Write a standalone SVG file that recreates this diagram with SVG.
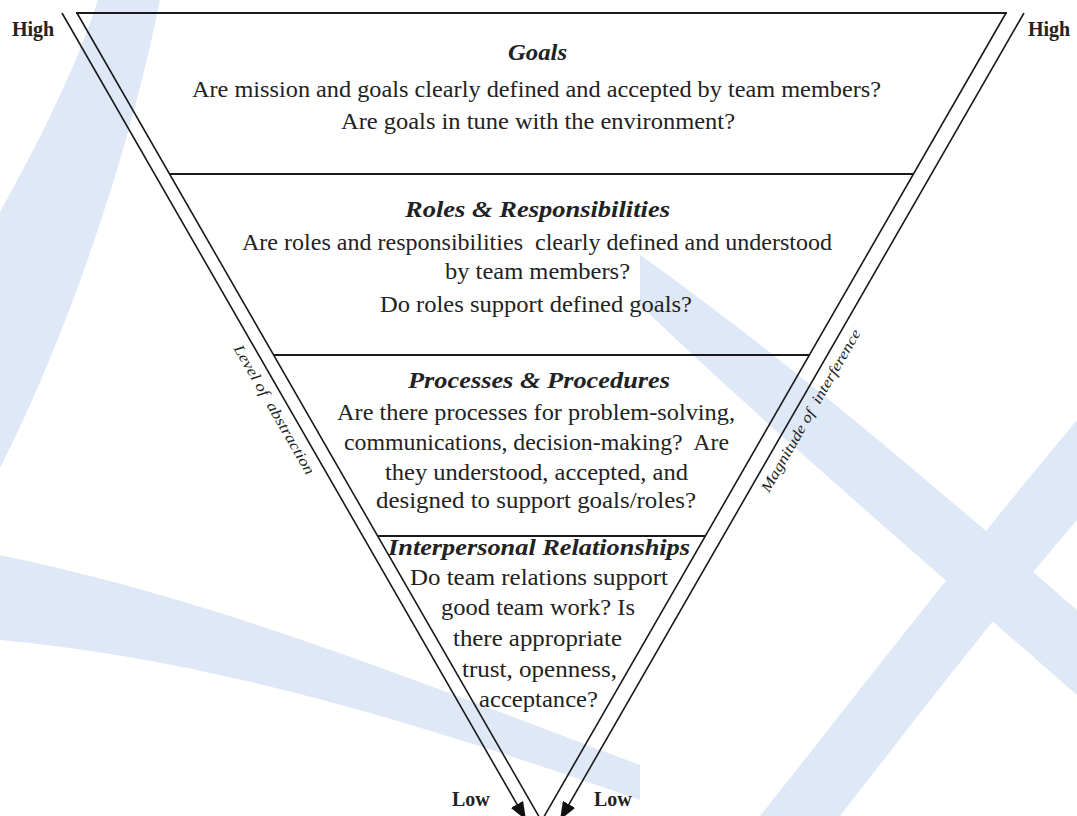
<svg xmlns="http://www.w3.org/2000/svg" width="1077" height="816" viewBox="0 0 1077 816">
  <style>
    .band { fill: #dfe8f6; stroke: none; }
    .edge { fill: none; stroke: #1a1a1a; stroke-width: 1.6; }
    .div { fill: none; stroke: #1a1a1a; stroke-width: 2; }
    .title { font-family: "Liberation Serif", "Times New Roman", serif; font-size: 24px; font-weight: bold; font-style: italic; fill: #222; text-anchor: middle; }
    .body { font-family: "Liberation Serif", "Times New Roman", serif; font-size: 24px; fill: #222; text-anchor: middle; }
    .scale { font-family: "Liberation Serif", "Times New Roman", serif; font-size: 20px; font-weight: bold; fill: #222; }
    .axis { font-family: "Liberation Serif", "Times New Roman", serif; font-size: 15px; font-style: italic; fill: #222; text-anchor: middle; }
  </style>
  <defs>
    <marker id="arrow" markerUnits="userSpaceOnUse" markerWidth="18" markerHeight="14" refX="18" refY="7" orient="auto">
      <path d="M0,0 L18,7 L0,14 z" fill="#111"/>
    </marker>
  </defs>

  <rect width="1077" height="816" fill="#ffffff"/>

  <!-- pale watermark strokes in the background -->
  <g id="background">
    <path class="band" d="M98,0 L160,0 C130,150 70,330 0,468 L0,212 C40,140 75,70 98,0 z"/>
    <path class="band" d="M0,555 C220,600 440,690 640,765 L640,800 C440,730 220,660 0,640 z"/>
    <path class="band" d="M640,255 C760,340 900,455 1077,610 L1077,695 C900,540 760,420 640,305 z"/>
    <path class="band" d="M1077,420 C960,560 860,690 760,816 L840,816 C930,700 1000,610 1077,520 z"/>
  </g>

  <!-- connectors: the two scale arrows beside the funnel -->
  <g id="connectors">
    <line id="arrow-abstraction" class="edge" x1="62" y1="13" x2="526" y2="820" marker-end="url(#arrow)"/>
    <line id="arrow-interference" class="edge" x1="1024" y1="13" x2="560" y2="820" marker-end="url(#arrow)"/>
  </g>

  <!-- funnel outline and layer dividers -->
  <g id="funnel">
    <line class="div" x1="76" y1="13" x2="1007" y2="13"/>
    <line class="edge" x1="77" y1="13" x2="541.5" y2="821"/>
    <line class="edge" x1="1006" y1="13" x2="541.5" y2="821"/>
    <line class="div" x1="169.6" y1="174" x2="913.4" y2="174"/>
    <line class="div" x1="273.6" y1="355" x2="809.4" y2="355"/>
    <line class="div" x1="377.7" y1="536" x2="705.3" y2="536"/>
  </g>

  <g id="node-goals">
    <text class="title" x="537.5" y="60" textLength="59" lengthAdjust="spacingAndGlyphs">Goals</text>
    <text class="body" x="536.5" y="97" textLength="689" lengthAdjust="spacingAndGlyphs">Are mission and goals clearly defined and accepted by team members?</text>
    <text class="body" x="538" y="129" textLength="394" lengthAdjust="spacingAndGlyphs">Are goals in tune with  the environment?</text>
  </g>

  <g id="node-roles">
    <text class="title" x="537.5" y="217" textLength="265" lengthAdjust="spacingAndGlyphs">Roles &amp; Responsibilities</text>
    <text class="body" x="537" y="250" textLength="590" lengthAdjust="spacingAndGlyphs" xml:space="preserve">Are roles and responsibilities  clearly defined and understood</text>
    <text class="body" x="537.5" y="279" textLength="185" lengthAdjust="spacingAndGlyphs">by team members?</text>
    <text class="body" x="536" y="312" textLength="312" lengthAdjust="spacingAndGlyphs">Do roles support defined goals?</text>
  </g>

  <g id="node-processes">
    <text class="title" x="539" y="388" textLength="262" lengthAdjust="spacingAndGlyphs">Processes &amp; Procedures</text>
    <text class="body" x="536" y="420" textLength="398" lengthAdjust="spacingAndGlyphs">Are there processes for problem-solving,</text>
    <text class="body" x="536.5" y="450" textLength="385" lengthAdjust="spacingAndGlyphs" xml:space="preserve">communications, decision-making?  Are</text>
    <text class="body" x="536.5" y="480" textLength="303" lengthAdjust="spacingAndGlyphs">they understood, accepted, and</text>
    <text class="body" x="536" y="508" textLength="320" lengthAdjust="spacingAndGlyphs">designed to support goals/roles?</text>
  </g>

  <g id="node-interpersonal">
    <text class="title" x="539" y="555" textLength="302" lengthAdjust="spacingAndGlyphs">Interpersonal Relationships</text>
    <text class="body" x="539" y="585" textLength="258" lengthAdjust="spacingAndGlyphs">Do team relations support</text>
    <text class="body" x="538" y="615" textLength="194" lengthAdjust="spacingAndGlyphs">good team work? Is</text>
    <text class="body" x="537.5" y="646" textLength="169" lengthAdjust="spacingAndGlyphs">there appropriate</text>
    <text class="body" x="539.5" y="677" textLength="155" lengthAdjust="spacingAndGlyphs">trust, openness,</text>
    <text class="body" x="538.5" y="707" textLength="119" lengthAdjust="spacingAndGlyphs">acceptance?</text>
  </g>

  <g id="scale-labels">
    <text class="scale" x="12" y="36">High</text>
    <text class="scale" x="1028" y="36">High</text>
    <text class="scale" x="452" y="806">Low</text>
    <text class="scale" x="594" y="806">Low</text>
    <text class="axis" transform="translate(270 412) rotate(60.1)" textLength="147" lengthAdjust="spacingAndGlyphs" xml:space="preserve">Level of  abstraction</text>
    <text class="axis" transform="translate(815 413) rotate(-60.1)" textLength="185" lengthAdjust="spacingAndGlyphs" xml:space="preserve">Magnitude of  interference</text>
  </g>
</svg>
